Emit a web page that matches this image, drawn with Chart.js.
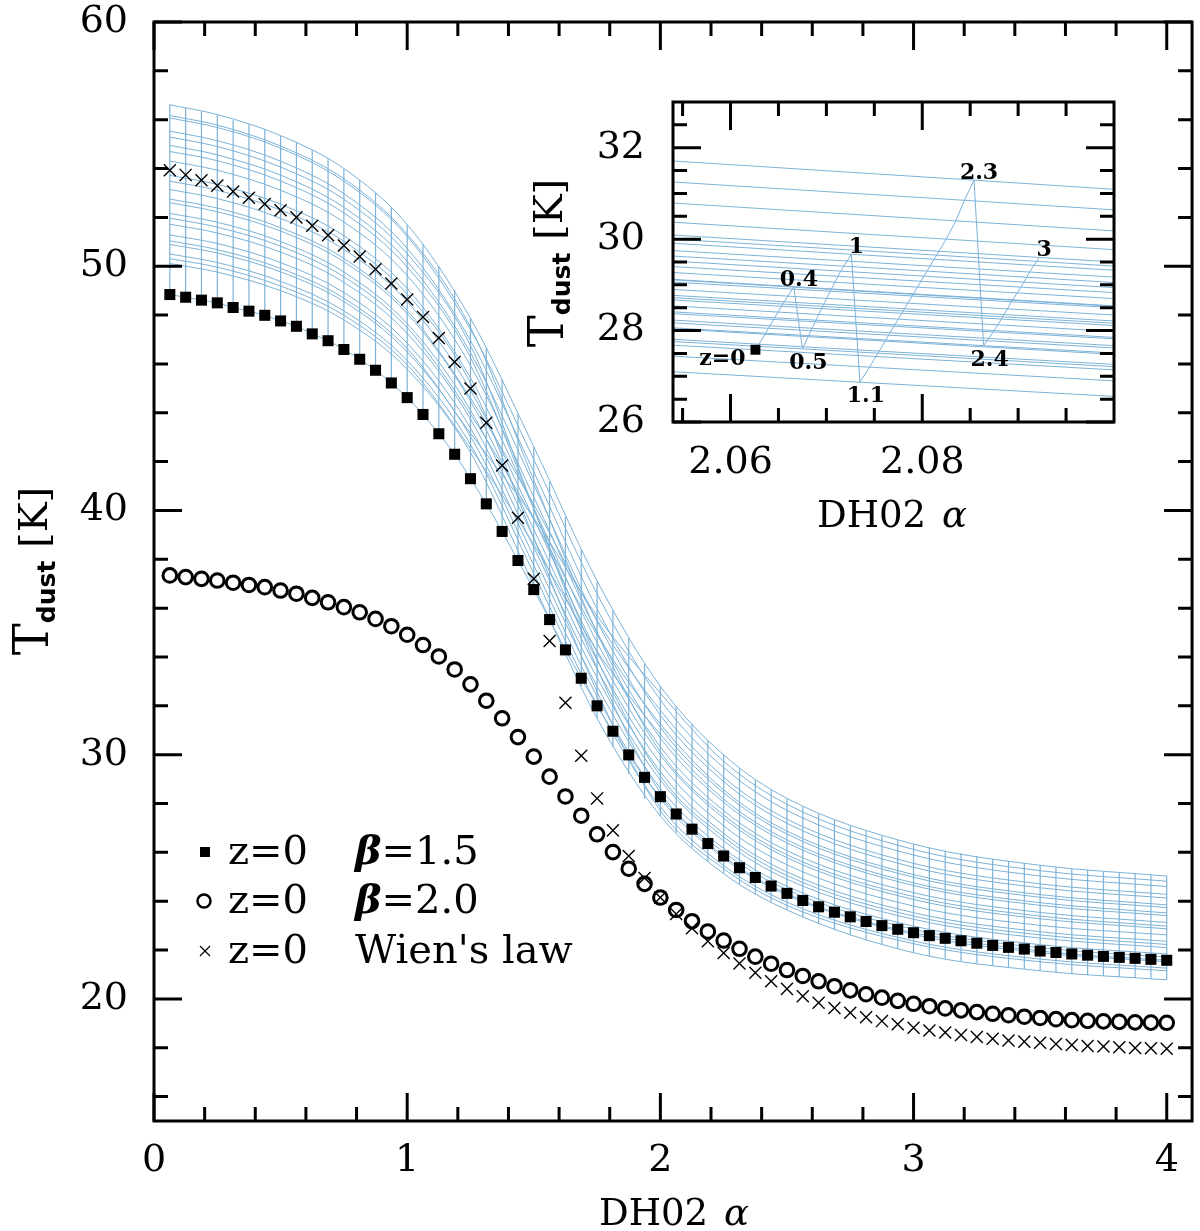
<!DOCTYPE html>
<html><head><meta charset="utf-8">
<script src="https://cdn.jsdelivr.net/npm/chart.js@4.4.0/dist/chart.umd.min.js"></script>
<style>
html,body{margin:0;padding:0;background:#fff;}
#wrap{position:relative;width:1200px;height:1231px;overflow:hidden;}
#main{position:absolute;left:0;top:0;width:1200px;height:1231px;}
#inset{position:absolute;left:520px;top:80px;width:620px;height:460px;}
</style></head><body>
<div id="wrap"><canvas id="main" width="1200" height="1231"></canvas><canvas id="inset" width="620" height="460"></canvas></div>
<script>
// ================= DATA =================
// DH02 alpha grid (main panel)
const alphaGrid = [0.0625,0.125,0.1875,0.25,0.3125,0.375,0.4375,0.5,0.5625,0.625,0.6875,0.75,0.8125,0.875,0.9375,1.0,
  1.0625,1.125,1.1875,1.25,1.3125,1.375,1.4375,1.5,1.5625,1.625,1.6875,1.75,1.8125,1.875,1.9375,2.0,
  2.0625,2.125,2.1875,2.25,2.3125,2.375,2.4375,2.5,2.5625,2.625,2.6875,2.75,2.8125,2.875,2.9375,3.0,
  3.0625,3.125,3.1875,3.25,3.3125,3.375,3.4375,3.5,3.5625,3.625,3.6875,3.75,3.8125,3.875,3.9375,4.0];
// z=0, beta=1.5 (filled squares)
const tBeta15 = [48.84,48.73,48.61,48.50,48.31,48.16,47.99,47.76,47.54,47.23,46.95,46.59,46.19,45.74,45.22,44.62,
  43.93,43.14,42.30,41.30,40.27,39.14,37.95,36.76,35.53,34.29,33.13,32.00,30.96,29.99,29.07,28.28,
  27.57,26.95,26.36,25.85,25.37,24.97,24.62,24.32,24.03,23.77,23.55,23.36,23.17,23.00,22.85,22.71,
  22.59,22.48,22.38,22.28,22.19,22.11,22.04,21.96,21.90,21.84,21.79,21.74,21.70,21.66,21.62,21.58];
// z=0, beta=2.0 (open circles)
const tBeta20 = [37.34,37.27,37.20,37.13,37.04,36.95,36.86,36.72,36.59,36.42,36.24,36.04,35.83,35.56,35.26,34.91,
  34.49,34.02,33.49,32.88,32.21,31.49,30.72,29.92,29.10,28.29,27.50,26.74,26.01,25.33,24.71,24.15,
  23.64,23.18,22.76,22.39,22.05,21.73,21.44,21.18,20.94,20.72,20.52,20.35,20.19,20.05,19.92,19.80,
  19.70,19.61,19.53,19.46,19.39,19.33,19.27,19.22,19.17,19.13,19.10,19.08,19.06,19.04,19.03,19.02];
// z=0, Wien's law (crosses)
const tWien = [53.93,53.74,53.52,53.30,53.06,52.80,52.55,52.29,52.00,51.66,51.27,50.85,50.40,49.88,49.29,48.64,
  47.92,47.06,46.08,44.99,43.59,41.84,39.70,37.20,34.65,32.13,29.96,28.21,26.90,25.85,24.95,24.15,
  23.48,22.89,22.36,21.88,21.45,21.07,20.72,20.41,20.11,19.84,19.63,19.43,19.25,19.09,18.96,18.82,
  18.71,18.62,18.52,18.44,18.37,18.30,18.25,18.20,18.15,18.11,18.07,18.05,18.02,17.99,17.98,17.96];
// redshift mesh: curves for z>0 sampled at coarse alpha
const meshAlpha = [0.0625,0.25,0.5,0.75,1.0,1.25,1.5,1.75,2.0,2.25,2.5,3.0,3.5,4.0];
const meshC1  = [56.61,56.21,55.35,54.00,51.71,47.87,42.61,37.12,32.80,29.99,28.21,26.34,25.47,25.03];
const meshC2  = [56.07,55.68,54.83,53.48,51.22,47.41,42.09,36.58,32.24,29.47,27.72,25.89,25.03,24.60];
const meshC3  = [55.53,55.14,54.30,52.97,50.73,46.96,41.58,35.97,31.62,28.90,27.19,25.39,24.55,24.13];
const meshC4  = [54.95,54.56,53.73,52.41,50.20,46.46,41.06,35.46,31.11,28.44,26.75,24.98,24.16,23.74];
const meshC5  = [54.31,53.93,53.11,51.81,49.62,45.93,40.55,35.01,30.68,28.05,26.39,24.64,23.83,23.41];
const meshC6  = [53.72,53.35,52.54,51.25,49.08,45.43,40.10,34.59,30.32,27.71,26.07,24.35,23.54,23.13];
const meshC7  = [53.14,52.77,51.96,50.69,48.55,44.93,39.66,34.21,29.98,27.40,25.78,24.07,23.28,22.87];
const meshC8  = [52.60,52.23,51.44,50.18,48.06,44.48,39.22,33.86,29.64,27.09,25.49,23.80,23.01,22.62];
const meshC9  = [52.16,51.80,51.01,49.76,47.65,44.11,38.86,33.50,29.30,26.78,25.20,23.53,22.75,22.36];
const meshC10 = [51.72,51.36,50.58,49.34,47.25,43.74,38.49,33.15,28.96,26.47,24.90,23.26,22.49,22.10];
const meshC11 = [51.28,50.93,50.15,48.92,46.85,43.37,38.12,32.80,28.62,26.16,24.61,22.98,22.22,21.84];
const meshC12 = [50.89,50.54,49.77,48.55,46.49,43.03,37.75,32.38,28.20,25.77,24.25,22.64,21.89,21.52];
const meshC13 = [50.50,50.15,49.38,48.17,46.14,42.70,37.42,32.03,27.86,25.46,23.96,22.37,21.63,21.26];
const meshC14 = [50.11,49.76,49.00,47.80,45.78,42.37,36.94,31.49,27.49,25.13,23.64,21.89,21.15,20.78];
const meshC15 = [51.04,50.68,49.91,48.69,46.63,43.16,39.70,35.68,32.52,29.73,27.97,26.12,25.25,24.82];
const meshC16 = [52.75,52.38,51.58,50.32,48.19,44.60,40.25,35.52,31.82,29.08,27.36,25.55,24.71,24.28];
const meshC17 = [54.70,54.32,53.49,52.18,49.97,46.26,40.07,33.92,29.13,26.63,25.05,23.39,22.62,22.23];
const meshC18 = [56.17,55.78,54.92,53.58,51.31,47.50,41.24,34.98,30.12,27.53,25.90,24.19,23.39,22.98];
const meshC19 = [50.31,49.96,49.19,47.99,45.96,42.54,38.60,34.24,30.83,28.18,26.51,24.75,23.94,23.52];
const meshC20 = [53.48,53.11,52.30,51.02,48.86,45.22,38.86,32.58,27.71,25.33,23.83,22.26,21.52,21.15];
const meshC21 = [51.97,51.60,50.82,49.57,47.48,43.94,39.63,34.91,31.25,28.56,26.87,25.09,24.27,23.85];
const meshC22 = [55.29,54.90,54.06,52.74,50.51,46.75,40.07,33.54,28.45,26.01,24.47,22.85,22.09,21.71];
// extent of the redshift zig-zag at each alpha of the grid
const meshHigh = [56.61,56.48,56.34,56.21,55.99,55.82,55.62,55.35,55.10,54.74,54.41,54.00,53.53,53.01,52.41,51.71,
  50.91,50.00,49.03,47.87,46.67,45.36,43.98,42.61,41.18,39.74,38.40,37.09,35.89,34.79,33.72,32.80,
  31.98,31.26,30.58,29.99,29.43,28.97,28.56,28.21,27.87,27.57,27.32,27.10,26.88,26.68,26.51,26.34,
  26.20,26.08,25.96,25.84,25.74,25.65,25.57,25.47,25.40,25.33,25.28,25.22,25.17,25.13,25.08,25.03];
const meshLow = [48.84,48.73,48.61,48.50,48.31,48.16,47.99,47.76,47.54,47.23,46.95,46.59,46.19,45.74,45.22,44.62,
  43.93,43.14,42.30,41.30,40.27,39.14,37.95,36.76,35.46,34.08,32.80,31.49,30.31,29.21,28.20,27.49,
  26.80,26.20,25.62,25.13,24.66,24.27,23.93,23.64,23.33,23.06,22.82,22.61,22.41,22.22,22.05,21.89,
  21.75,21.65,21.55,21.46,21.37,21.29,21.22,21.15,21.09,21.03,20.98,20.94,20.90,20.86,20.82,20.78];
// main axes ticks
const mainXMajor = [0,1,2,3,4];
const mainXMinor = [0.2,0.4,0.6,0.8,1.2,1.4,1.6,1.8,2.2,2.4,2.6,2.8,3.2,3.4,3.6,3.8,4.0];
const mainYMajor = [20,30,40,50,60];
const mainYMinor = [16,18,22,24,26,28,32,34,36,38,42,44,46,48,52,54,56,58];
// legend
const legendZ = ['z=0','z=0','z=0'];
const legendB = ['β','β',''];
const legendRest = ['=1.5','=2.0',"Wien's law"];

// inset: redshift zig-zag at alpha grid point 2.0625
const insetZ = [0,0.1,0.2,0.3,0.4,0.5,0.6,0.7,0.8,0.9,1.0,1.1,1.2,1.3,1.4,1.5,1.6,1.7,1.8,1.9,2.0,2.1,2.2,2.3,2.4,2.5,2.6,2.7,2.8,2.9,3.0];
const insetAlpha = [2.0626,2.0636,2.0646,2.0656,2.0666,2.0675,2.0685,2.0695,2.0705,2.0715,2.0726,2.0735,2.0745,2.0755,2.0765,2.0775,
  2.0785,2.0795,2.0805,2.0815,2.0825,2.0835,2.0844,2.0854,2.0864,2.0874,2.0884,2.0893,2.0903,2.0912,2.0922];
const insetT = [27.58,27.92,28.28,28.63,28.96,27.60,28.05,28.48,28.90,29.30,29.67,26.87,27.20,27.55,27.90,28.25,
  28.60,28.95,29.30,29.65,30.00,30.40,30.85,31.29,27.67,27.97,28.30,28.63,28.95,29.28,29.60];
const insetLeftT = [27.68,28.04,28.41,28.77,29.12,27.76,28.23,28.67,29.11,29.52,29.91,27.10,27.44,27.81,28.17,28.54,
  28.90,29.27,29.63,30.00,30.37,30.79,31.25,31.71,28.06,28.37,28.72,29.06,29.40,29.75,30.09];
const insetRightT = [27.14,27.48,27.85,28.21,28.54,27.21,27.67,28.11,28.53,28.94,29.32,26.56,26.90,27.26,27.62,27.98,
  28.34,28.70,29.05,29.41,29.77,30.18,30.64,31.09,27.51,27.82,28.16,28.50,28.83,29.17,29.50];
const insetEdges = [2.054, 2.1];
const insetLabelText = ['z=0','0.4','0.5','1','1.1','2.3','2.4','3'];
const insetLabelIdx = [0,4,5,10,11,23,24,30];
const insetLabelPos = ['left','above','below','above','below','above','below','above'];
const insetXMajor = [2.06,2.08];
const insetXMinor = [2.055,2.065,2.07,2.075,2.085,2.09,2.095];
const insetYMajor = [26,28,30,32];
const insetYMinor = [26.5,27,27.5,28.5,29,29.5,30.5,31,31.5,32.5];

// ================= STYLE / DRAW =================
const MESH = 'rgb(124,178,215)';
const SERIF = '"DejaVu Serif", serif';
const meshCurves = [meshC1,meshC2,meshC3,meshC4,meshC5,meshC6,meshC7,meshC8,meshC9,meshC10,meshC11,
  meshC12,meshC13,meshC14,meshC15,meshC16,meshC17,meshC18,meshC19,meshC20,meshC21,meshC22];

function drawTicks(chart, xMaj, xMin, yMaj, yMin) {
  const {ctx, chartArea: ca, scales: {x, y}} = chart;
  const L = 28, l = 14;
  ctx.save();
  ctx.strokeStyle = '#000'; ctx.lineWidth = 3; ctx.lineCap = 'butt';
  ctx.beginPath();
  const xt = (v, len) => { const p = x.getPixelForValue(v); ctx.moveTo(p, ca.bottom); ctx.lineTo(p, ca.bottom - len); ctx.moveTo(p, ca.top); ctx.lineTo(p, ca.top + len); };
  const yt = (v, len) => { const p = y.getPixelForValue(v); ctx.moveTo(ca.left, p); ctx.lineTo(ca.left + len, p); ctx.moveTo(ca.right, p); ctx.lineTo(ca.right - len, p); };
  xMaj.forEach(v => xt(v, L)); xMin.forEach(v => xt(v, l));
  yMaj.forEach(v => yt(v, L)); yMin.forEach(v => yt(v, l));
  ctx.stroke();
  ctx.strokeRect(ca.left, ca.top, ca.right - ca.left, ca.bottom - ca.top);
  ctx.restore();
}
function drawXTitle(ctx, cx, base, size) {
  ctx.save();
  ctx.fillStyle = '#000'; ctx.textBaseline = 'alphabetic'; ctx.textAlign = 'left';
  const f1 = size + 'px ' + SERIF, f2 = 'italic ' + size + 'px ' + SERIF;
  ctx.font = f1; const w1 = ctx.measureText('DH02 ').width;
  ctx.font = f2; const w2 = ctx.measureText('α').width;
  let x0 = cx - (w1 + w2) / 2;
  ctx.font = f1; ctx.fillText('DH02 ', x0, base);
  ctx.font = f2; ctx.fillText('α', x0 + w1 + 4, base);
  ctx.restore();
}
function drawYTitle(ctx, cx, cy) {
  ctx.save();
  ctx.translate(cx, cy); ctx.rotate(-Math.PI / 2);
  ctx.fillStyle = '#000'; ctx.textBaseline = 'alphabetic'; ctx.textAlign = 'left';
  const parts = [
    {t: 'T', f: '48px ' + SERIF, dy: 18},
    {t: 'dust', f: 'bold 25px "DejaVu Sans", sans-serif', dy: 25},
    {t: ' [K]', f: '40px ' + SERIF, dy: 17}
  ];
  let tot = 0;
  parts.forEach(p => { ctx.font = p.f; p.w = ctx.measureText(p.t).width; tot += p.w; });
  let u = -tot / 2;
  parts.forEach(p => { ctx.font = p.f; ctx.fillText(p.t, u, p.dy); u += p.w; });
  ctx.restore();
}

const mainPlugin = {
  id: 'mainDeco',
  afterDraw(chart) {
    drawTicks(chart, mainXMajor, mainXMinor, mainYMajor, mainYMinor);
    const ctx = chart.ctx;
    // legend
    const rowsY = [864, 913, 963];
    ctx.save();
    ctx.fillStyle = '#000'; ctx.strokeStyle = '#000';
    ctx.fillRect(200, rowsY[0] - 17, 10, 10);
    ctx.lineWidth = 2.5; ctx.beginPath(); ctx.arc(204, rowsY[1] - 12, 6.5, 0, Math.PI * 2); ctx.stroke();
    ctx.lineWidth = 1.2; ctx.beginPath();
    ctx.moveTo(200, rowsY[2] - 17); ctx.lineTo(210, rowsY[2] - 7);
    ctx.moveTo(210, rowsY[2] - 17); ctx.lineTo(200, rowsY[2] - 7); ctx.stroke();
    ctx.textBaseline = 'alphabetic'; ctx.textAlign = 'left';
    for (let i = 0; i < 3; i++) {
      ctx.font = '40px ' + SERIF; ctx.fillText(legendZ[i], 228, rowsY[i]);
      let xx = 355;
      if (legendB[i]) { ctx.font = 'italic bold 40px ' + SERIF; ctx.fillText(legendB[i], xx, rowsY[i]); xx += ctx.measureText(legendB[i]).width; }
      ctx.font = '40px ' + SERIF; ctx.fillText(legendRest[i], xx, rowsY[i]);
    }
    ctx.restore();
    drawXTitle(ctx, 672, 1225, 37);
    drawYTitle(ctx, 30, 571);
  }
};

const pts = (xs, ys) => xs.map((a, i) => ({x: a, y: ys[i]}));
const mainDatasets = [];
mainDatasets.push({label: 'z=0 beta=1.5', data: pts(alphaGrid, tBeta15), showLine: false, pointStyle: 'rect', pointRadius: 7.8,
  pointBackgroundColor: '#000', pointBorderColor: '#000', pointBorderWidth: 0, order: 0});
mainDatasets.push({label: 'z=0 beta=2.0', data: pts(alphaGrid, tBeta20), showLine: false, pointStyle: 'circle', pointRadius: 6.8,
  pointBackgroundColor: 'rgba(0,0,0,0)', pointBorderColor: '#000', pointBorderWidth: 3, order: 0});
mainDatasets.push({label: "z=0 Wien's law", data: pts(alphaGrid, tWien), showLine: false, pointStyle: 'crossRot', pointRadius: 8.5,
  pointBorderColor: '#000', pointBorderWidth: 1.4, order: 0});
mainDatasets.push({label: 'mesh z=0', data: pts(alphaGrid, tBeta15), showLine: true, pointRadius: 0, borderColor: MESH, borderWidth: 1,
  cubicInterpolationMode: 'monotone', order: 5});
meshCurves.forEach((c, k) => mainDatasets.push({label: 'mesh ' + k, data: pts(meshAlpha, c), showLine: true, pointRadius: 0,
  borderColor: MESH, borderWidth: 1, cubicInterpolationMode: 'monotone', order: 5}));
const vData = [];
alphaGrid.forEach((a, i) => { vData.push({x: a, y: meshLow[i]}, {x: a, y: meshHigh[i]}, {x: a, y: null}); });
mainDatasets.push({label: 'mesh zigzag', data: vData, showLine: true, spanGaps: false, pointRadius: 0, borderColor: MESH, borderWidth: 1.2, tension: 0, order: 5});

const tickFont = {family: 'DejaVu Serif', size: 38, lineHeight: 1};
const fixY = w => s => { s.width = w; s.paddingTop = 0; s.paddingBottom = 0; };
new Chart(document.getElementById('main'), {
  type: 'scatter',
  data: {datasets: mainDatasets},
  options: {
    responsive: false, animation: false, devicePixelRatio: 1, events: [],
    layout: {autoPadding: false, padding: {left: 0, top: 22, right: 7, bottom: 0}},
    plugins: {legend: {display: false}, tooltip: {enabled: false}},
    scales: {
      x: {type: 'linear', min: 0, max: 4.1, grid: {display: false, drawTicks: false}, border: {display: false},
        afterBuildTicks: s => { s.ticks = mainXMajor.map(v => ({value: v})); },
        afterFit: s => { s.height = 110; },
        ticks: {font: tickFont, color: '#000', padding: 21, maxRotation: 0, autoSkip: false, callback: v => String(v)}},
      y: {type: 'linear', min: 15, max: 60, grid: {display: false, drawTicks: false}, border: {display: false},
        afterBuildTicks: s => { s.ticks = mainYMajor.map(v => ({value: v})); },
        afterFit: fixY(154),
        ticks: {font: tickFont, color: '#000', padding: 26, autoSkip: false, callback: v => String(v)}}
    }
  },
  plugins: [mainPlugin]
});

// ================= INSET =================
const insetPlugin = {
  id: 'insetDeco',
  afterDraw(chart) {
    drawTicks(chart, insetXMajor, insetXMinor, insetYMajor, insetYMinor);
    const {ctx, scales: {x, y}} = chart;
    ctx.save();
    ctx.fillStyle = '#000';
    ctx.font = 'bold 22px ' + SERIF;
    insetLabelText.forEach((t, k) => {
      const i = insetLabelIdx[k];
      const px = x.getPixelForValue(insetAlpha[i]), py = y.getPixelForValue(insetT[i]);
      const pos = insetLabelPos[k];
      ctx.textBaseline = 'alphabetic';
      if (pos === 'left') { ctx.textAlign = 'right'; ctx.fillText(t, px - 10, py + 15); }
      else if (pos === 'above') { ctx.textAlign = 'center'; ctx.fillText(t, px + 5, py - 1); }
      else { ctx.textAlign = 'center'; ctx.fillText(t, px + 6, py + 20); }
    });
    ctx.restore();
    drawXTitle(ctx, 370, 447, 37);
    drawYTitle(ctx, 25, 183);
  }
};
const insetDatasets = [];
insetDatasets.push({label: 'z=0 square', data: [{x: insetAlpha[0], y: insetT[0]}], showLine: false, pointStyle: 'rect', pointRadius: 7,
  pointBackgroundColor: '#000', pointBorderColor: '#000', pointBorderWidth: 0, order: 0});
insetDatasets.push({label: 'zigzag', data: pts(insetAlpha, insetT), showLine: true, pointRadius: 0, borderColor: MESH, borderWidth: 1, tension: 0, order: 5});
const lineData = [];
insetZ.forEach((z, i) => {
  lineData.push({x: insetEdges[0], y: insetLeftT[i]}, {x: insetAlpha[i], y: insetT[i]}, {x: insetEdges[1], y: insetRightT[i]}, {x: insetEdges[1], y: null});
});
insetDatasets.push({label: 'z curves', data: lineData, showLine: true, spanGaps: false, pointRadius: 0, borderColor: MESH, borderWidth: 1, tension: 0, order: 5});

new Chart(document.getElementById('inset'), {
  type: 'scatter',
  data: {datasets: insetDatasets},
  options: {
    responsive: false, animation: false, devicePixelRatio: 1, events: [],
    layout: {autoPadding: false, padding: {left: 0, top: 22, right: 26, bottom: 0}},
    plugins: {legend: {display: false}, tooltip: {enabled: false}},
    scales: {
      x: {type: 'linear', min: 2.054, max: 2.1, grid: {display: false, drawTicks: false}, border: {display: false},
        afterBuildTicks: s => { s.ticks = insetXMajor.map(v => ({value: v})); },
        afterFit: s => { s.height = 118; },
        ticks: {font: tickFont, color: '#000', padding: 22, maxRotation: 0, autoSkip: false, callback: v => v.toFixed(2)}},
      y: {type: 'linear', min: 26, max: 33, grid: {display: false, drawTicks: false}, border: {display: false},
        afterBuildTicks: s => { s.ticks = insetYMajor.map(v => ({value: v})); },
        afterFit: fixY(153),
        ticks: {font: tickFont, color: '#000', padding: 28, autoSkip: false, callback: v => String(v)}}
    }
  },
  plugins: [insetPlugin]
});
</script></body></html>
